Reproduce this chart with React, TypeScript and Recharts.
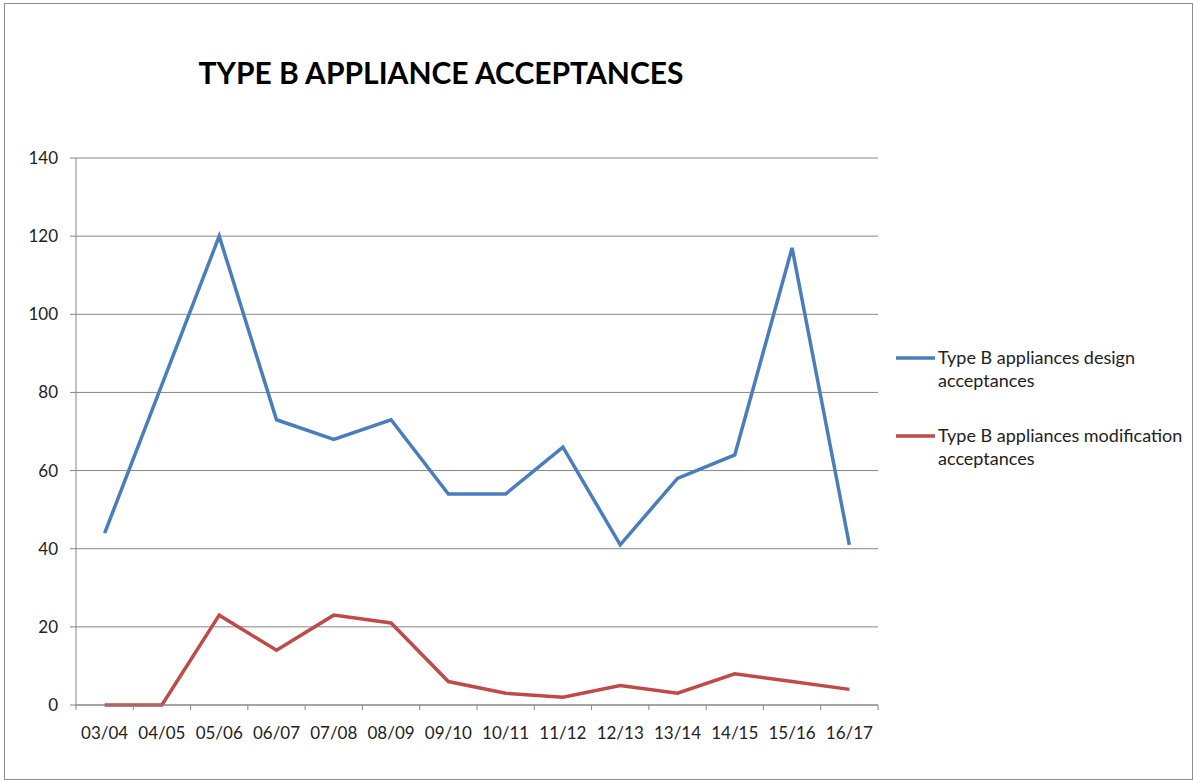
import { LineChart, Line, XAxis, YAxis, CartesianGrid, Legend } from "recharts"

const seasons = ["03/04", "04/05", "05/06", "06/07", "07/08", "08/09", "09/10", "10/11", "11/12", "12/13", "13/14", "14/15", "15/16", "16/17"]
const designAcceptances = [44, 82, 120, 73, 68, 73, 54, 54, 66, 41, 58, 64, 117, 41]
const modificationAcceptances = [0, 0, 23, 14, 23, 21, 6, 3, 2, 5, 3, 8, 6, 4]
const yTicks = [0, 20, 40, 60, 80, 100, 120, 140]

const seriesNames = ["Type B appliances design acceptances", "Type B appliances modification acceptances"]
const seriesColors = ["#4A7EBB", "#BE4B48"]

const FONT = "Lato, 'Open Sans', sans-serif"
const CHART_W = 1187
const CHART_H = 775
const PLOT_W = 802
const HALF_BAND = PLOT_W / seasons.length / 2

const data = seasons.map((season, i) => ({
    season,
    design: designAcceptances[i],
    modification: modificationAcceptances[i],
}))

function SeasonTick(props: any) {
    const { x, y, payload, index } = props
    const last = index === seasons.length - 1
    return (
        <g>
            <line x1={x - HALF_BAND} x2={x - HALF_BAND} y1={y} y2={y + 5} stroke="#868686" />
            {last && <line x1={x + HALF_BAND} x2={x + HALF_BAND} y1={y} y2={y + 5} stroke="#868686" />}
            <text x={x} y={y + 34} textAnchor="middle" fill="#222" fontSize={17} fontFamily={FONT}>
                {payload.value}
            </text>
        </g>
    )
}

function LegendBox() {
    return (
        <div style={{ fontFamily: FONT, fontSize: 18, color: "#222", lineHeight: "23px" }}>
            {seriesNames.map((name, i) => {
                const cut = name.lastIndexOf(" ")
                return (
                    <div key={name} style={{ display: "flex", marginBottom: i === 0 ? 32 : 0 }}>
                        <svg width={42} height={23} style={{ flex: "none" }}>
                            <line x1={0} x2={39} y1={12} y2={12} stroke={seriesColors[i]} strokeWidth={3.5} />
                        </svg>
                        <div>
                            <div>{name.slice(0, cut)}</div>
                            <div>{name.slice(cut + 1)}</div>
                        </div>
                    </div>
                )
            })}
        </div>
    )
}

export default function App() {
    return (
        <div
            style={{
                position: "absolute",
                left: 4,
                top: 3,
                width: CHART_W + 2,
                height: CHART_H + 2,
                boxSizing: "border-box",
                border: "1px solid #8c8c8c",
                background: "#fff",
            }}
        >
            <div
                style={{
                    position: "absolute",
                    left: 0,
                    width: 872,
                    top: 50,
                    textAlign: "center",
                    fontFamily: FONT,
                    fontWeight: 700,
                    fontSize: 30,
                    color: "#000",
                }}
            >
                TYPE B APPLIANCE ACCEPTANCES
            </div>
            <LineChart
                width={CHART_W}
                height={CHART_H}
                data={data}
                margin={{ top: 154, right: 14, bottom: 44, left: 11 }}
            >
                <CartesianGrid vertical={false} stroke="#868686" />
                <XAxis
                    dataKey="season"
                    height={30}
                    padding={{ left: HALF_BAND, right: HALF_BAND }}
                    axisLine={{ stroke: "#868686" }}
                    tickLine={false}
                    tickSize={0}
                    tickMargin={0}
                    interval={0}
                    tick={<SeasonTick />}
                />
                <YAxis
                    width={60}
                    domain={[0, 140]}
                    ticks={yTicks}
                    axisLine={{ stroke: "#868686" }}
                    tickLine={{ stroke: "#868686" }}
                    tickSize={6}
                    tickMargin={12}
                    tick={{ fill: "#222", fontSize: 17, fontFamily: FONT }}
                />
                <Legend
                    layout="vertical"
                    align="right"
                    verticalAlign="middle"
                    wrapperStyle={{ left: 891, top: 342, width: 300 }}
                    content={<LegendBox />}
                />
                <Line
                    type="linear"
                    dataKey="design"
                    name={seriesNames[0]}
                    stroke={seriesColors[0]}
                    strokeWidth={3.5}
                    dot={false}
                    isAnimationActive={false}
                />
                <Line
                    type="linear"
                    dataKey="modification"
                    name={seriesNames[1]}
                    stroke={seriesColors[1]}
                    strokeWidth={3.5}
                    dot={false}
                    isAnimationActive={false}
                />
            </LineChart>
        </div>
    )
}
